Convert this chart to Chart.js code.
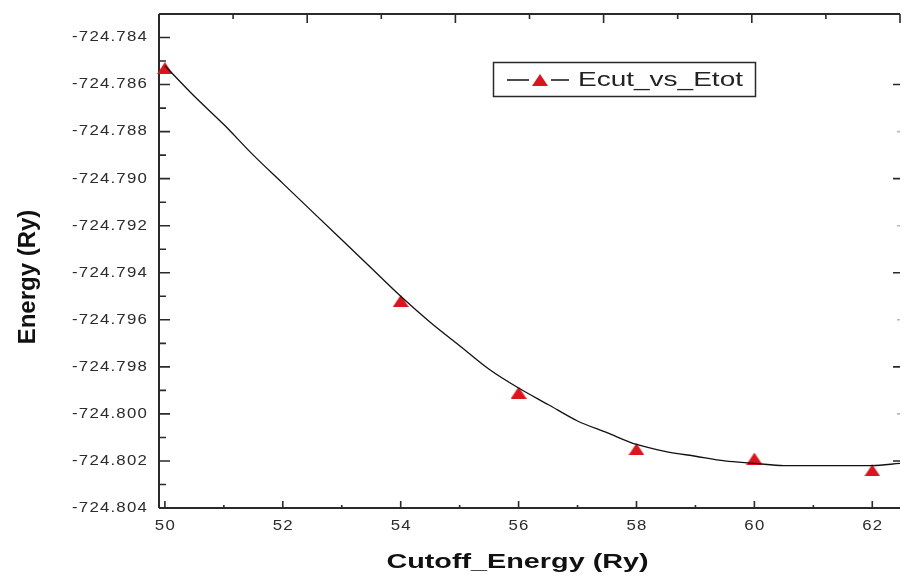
<!DOCTYPE html>
<html>
<head>
<meta charset="utf-8">
<script src="https://cdn.jsdelivr.net/npm/chart.js@4.4.0/dist/chart.umd.min.js"></script>
<style>
  html, body { margin: 0; padding: 0; background: #fff; }
  #wrap { width: 908px; height: 579px; }
</style>
</head>
<body>
<div id="wrap"><canvas id="c" width="908" height="579"></canvas></div>
<script>
// measured points (red triangles)
const ecut = [50, 54, 56, 58, 60, 62]
const etot = [-724.7853, -724.7952, -724.7991, -724.8015, -724.8019, -724.8024]

// fitted curve
const fitX = [50, 50.5, 51, 51.5, 52, 52.5, 53, 53.5, 54, 54.5, 55, 55.5, 56, 56.5, 57, 57.5, 58, 58.5, 59, 59.5, 60, 60.5, 61, 61.5, 62, 62.47]
const fitY = [-724.7852, -724.7865, -724.7877, -724.7890, -724.7902, -724.7914, -724.7926, -724.7938, -724.7950,
  -724.7961, -724.7971, -724.7981, -724.7989, -724.7996, -724.8003, -724.8008, -724.8013, -724.8016, -724.8018,
  -724.8020, -724.8021, -724.8022, -724.8022, -724.8022, -724.8022, -724.8021]

// axes
const xTicks = [50, 52, 54, 56, 58, 60, 62]
const xMinor = [51, 53, 55, 57, 59, 61]
const yTicks = [-724.784, -724.786, -724.788, -724.790, -724.792, -724.794, -724.796, -724.798, -724.800, -724.802, -724.804]
const yMinor = [-724.785, -724.787, -724.789, -724.791, -724.793, -724.795, -724.797, -724.799, -724.801, -724.803]
const topTicks = [0, 1, 2, 3, 4, 5, 6, 7, 8, 9, 10]   // top axis runs 0..10 along the frame
const rightMajor = [-724.786, -724.790, -724.794, -724.798, -724.802]
const rightMinor = [-724.788, -724.792, -724.796, -724.800]

const seriesName = 'Ecut_vs_Etot'
const xTitle = 'Cutoff_Energy (Ry)'
const yTitle = 'Energy (Ry)'

const RED = '#dc141e'
const AXIS = '#2a2a2a'
const FONT = "'Liberation Sans', Arial, sans-serif"

// flattened triangle marker like the original
function makeTriangle(w, h) {
  const cv = document.createElement('canvas')
  cv.width = w
  cv.height = h
  const g = cv.getContext('2d')
  g.fillStyle = RED
  g.beginPath()
  g.moveTo(w / 2, 0)
  g.lineTo(w, h)
  g.lineTo(0, h)
  g.closePath()
  g.fill()
  return cv
}
const tri = makeTriangle(16, 12)

function stretchText(ctx, text, x, y, sx, align) {
  ctx.save()
  ctx.translate(x, y)
  ctx.scale(sx, 1)
  ctx.textAlign = align
  ctx.fillText(text, 0, 0)
  ctx.restore()
}

const frame = {
  id: 'frame',
  beforeDatasetsDraw(chart) {
    const ctx = chart.ctx
    const a = chart.chartArea
    const xs = chart.scales.x
    const ys = chart.scales.y
    ctx.save()
    ctx.strokeStyle = AXIS
    ctx.lineWidth = 2
    ctx.beginPath()
    ctx.moveTo(a.left, a.top); ctx.lineTo(a.left, a.bottom)
    ctx.moveTo(a.left, a.bottom); ctx.lineTo(a.right, a.bottom)
    ctx.moveTo(a.left, a.top); ctx.lineTo(a.right, a.top)
    ctx.stroke()

    ctx.lineWidth = 1.6
    ctx.beginPath()
    yTicks.forEach(v => { const y = ys.getPixelForValue(v); ctx.moveTo(a.left, y); ctx.lineTo(a.left + 11, y) })
    yMinor.forEach(v => { const y = ys.getPixelForValue(v); ctx.moveTo(a.left, y); ctx.lineTo(a.left + 7, y) })
    xTicks.forEach(v => { const x = xs.getPixelForValue(v); ctx.moveTo(x, a.bottom); ctx.lineTo(x, a.bottom - 7) })
    xMinor.forEach(v => { const x = xs.getPixelForValue(v); ctx.moveTo(x, a.bottom); ctx.lineTo(x, a.bottom - 3) })
    topTicks.forEach(t => {
      const x = a.left + (a.right - a.left) * t / 10
      ctx.moveTo(x, a.top); ctx.lineTo(x, a.top + (t % 2 == 0 ? 9 : 5))
    })
    rightMajor.forEach(v => { const y = ys.getPixelForValue(v); ctx.moveTo(a.right, y); ctx.lineTo(a.right - 7, y) })
    ctx.stroke()
    ctx.strokeStyle = '#bbb'
    ctx.beginPath()
    rightMinor.forEach(v => { const y = ys.getPixelForValue(v); ctx.moveTo(a.right, y); ctx.lineTo(a.right - 3, y) })
    ctx.stroke()

    // tick labels, a little wide like the original
    ctx.fillStyle = '#2b2b2b'
    ctx.font = '14px ' + FONT
    ctx.letterSpacing = '1px'
    ctx.textBaseline = 'middle'
    yTicks.forEach(v => stretchText(ctx, v.toFixed(3), 148, ys.getPixelForValue(v), 1.2, 'right'))
    xTicks.forEach(v => stretchText(ctx, String(v), xs.getPixelForValue(v) + 0.5, 526, 1.2, 'center'))
    ctx.letterSpacing = '0px'
    ctx.restore()
  },
  afterDraw(chart) {
    const ctx = chart.ctx
    const a = chart.chartArea
    ctx.save()
    ctx.fillStyle = '#111'
    ctx.textBaseline = 'middle'

    // axis titles
    ctx.font = 'bold 21px ' + FONT
    stretchText(ctx, xTitle, (a.left + a.right) / 2 - 12, 562, 1.37, 'center')
    ctx.save()
    ctx.translate(28, 277)
    ctx.rotate(-Math.PI / 2)
    ctx.font = 'bold 24px ' + FONT
    ctx.textAlign = 'center'
    ctx.fillText(yTitle, 0, 0)
    ctx.restore()

    // legend
    ctx.strokeStyle = AXIS
    ctx.lineWidth = 1.5
    ctx.strokeRect(493.5, 62.5, 262, 34)
    ctx.strokeStyle = '#111'
    ctx.lineWidth = 1.3
    ctx.beginPath()
    ctx.moveTo(507, 80); ctx.lineTo(529, 80)
    ctx.moveTo(551, 80); ctx.lineTo(569, 80)
    ctx.stroke()
    ctx.drawImage(tri, 540 - tri.width / 2, 80 - tri.height / 2)
    ctx.fillStyle = '#222'
    ctx.font = '20px ' + FONT
    stretchText(ctx, seriesName, 578, 80, 1.4, 'left')
    ctx.restore()
  }
}

new Chart(document.getElementById('c'), {
  type: 'scatter',
  data: {
    datasets: [
      {
        label: 'fit',
        data: fitX.map((x, i) => ({ x: x, y: fitY[i] })),
        showLine: true,
        borderColor: '#111',
        borderWidth: 1.3,
        pointRadius: 0,
        cubicInterpolationMode: 'monotone'
      },
      {
        label: seriesName,
        data: ecut.map((x, i) => ({ x: x, y: etot[i] })),
        showLine: false,
        pointStyle: tri,
        pointRadius: 7,
        backgroundColor: RED,
        borderColor: RED,
        clip: false
      }
    ]
  },
  options: {
    responsive: false,
    animation: false,
    devicePixelRatio: 1,
    layout: { padding: { top: 14, right: 0, left: 0, bottom: 0 } },
    plugins: { legend: { display: false }, tooltip: { enabled: false } },
    scales: {
      x: {
        type: 'linear',
        position: 'bottom',
        min: 49.9,
        max: 62.47,
        grid: { display: false, drawTicks: false },
        border: { display: false },
        ticks: { display: false },
        afterBuildTicks: s => { s.ticks = xTicks.map(v => ({ value: v })) },
        afterFit: s => { s.height = 71 }
      },
      y: {
        type: 'linear',
        position: 'left',
        min: -724.804,
        max: -724.783,
        grid: { display: false, drawTicks: false },
        border: { display: false },
        ticks: { display: false },
        afterBuildTicks: s => { s.ticks = yTicks.map(v => ({ value: v })) },
        afterFit: s => { s.width = 159 }
      }
    }
  },
  plugins: [frame]
})
</script>
</body>
</html>
